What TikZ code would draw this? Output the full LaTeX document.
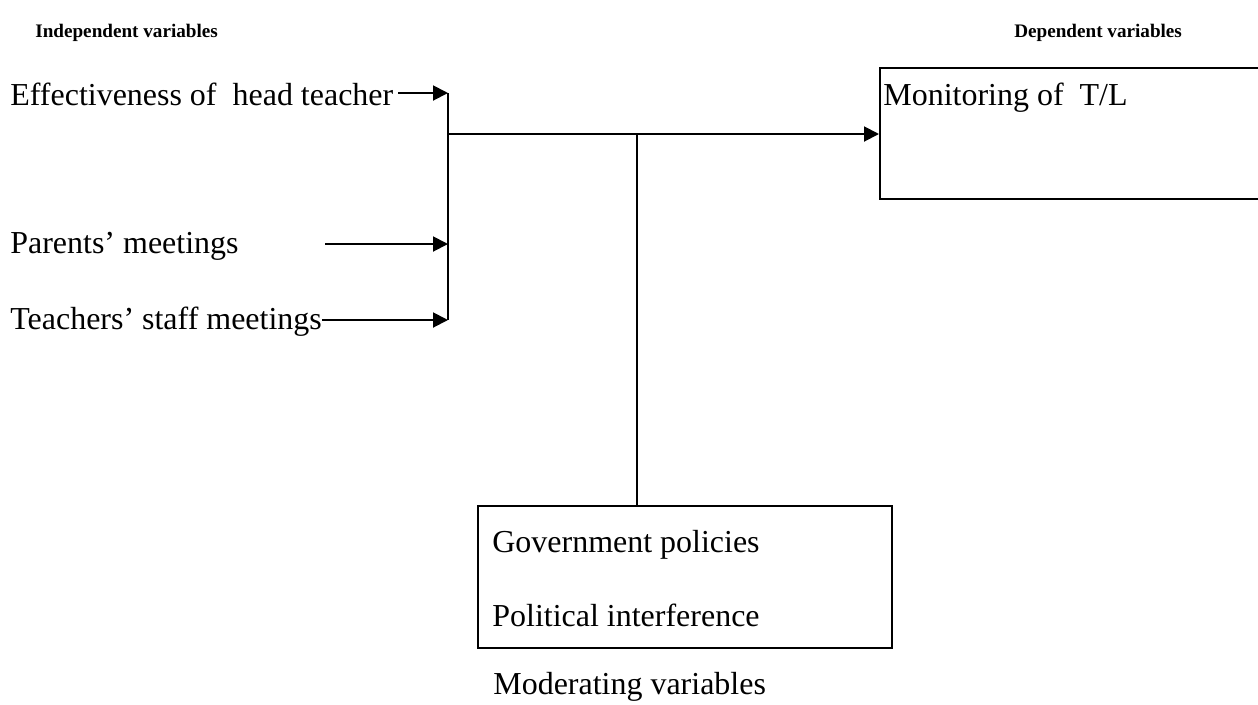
\documentclass[tikz,border=0pt]{standalone}
\usepackage{fontspec}
\setmainfont{Liberation Serif}
\usepackage{tikz}
\usetikzlibrary{arrows.meta,calc,positioning}

\tikzset{
  txt/.style={inner sep=0pt, anchor=base west, font=\fontsize{18.2}{22}\selectfont},
  head/.style={inner sep=0pt, anchor=base west, font=\fontsize{10.9}{13}\selectfont\bfseries},
  frame/.style={draw, line width=0.9pt, inner sep=0pt, anchor=north west},
  arr/.style={line width=1.1pt, -{Triangle[length=0.3cm,width=0.3cm]}},
  ln/.style={line width=1.1pt}
}

\begin{document}
\begin{tikzpicture}[x=0.02cm,y=-0.02cm]
		\path[use as bounding box, clip] (0,0) rectangle (1258,704);
		% headings
		\node[head] (indep) at (35,37) {Independent variables};
		\node[head] (dep) at (1014,37) {Dependent variables};
		% independent variables
		\node[txt] (eff) at (10,105) {Effectiveness of\ \ head teacher};
		\node[txt] (par) at (10,253) {Parents’ meetings};
		\node[txt] (tea) at (10,329) {Teachers’ staff meetings};
		\coordinate (bartop) at (448,93);
		\coordinate (barbot) at (448,320);
		\coordinate (effstart) at (398,93);
		\coordinate (parstart) at (325,244);
		\draw[ln] (bartop) -- (barbot);
		\draw[arr] (effstart) -- (bartop);
		\draw[arr] (parstart) -- (parstart -| bartop);
		\draw[arr] (tea.east |- barbot) -- (barbot);
		% dependent variable
		\node[frame, minimum width=8.4cm, minimum height=2.62cm] (monbox) at (879,67) {};
		\node[txt] (mon) at (883,105) {Monitoring of\ \ T/L};
		\coordinate (mainstart) at (448,134);
		\draw[arr] (mainstart) -- (mainstart -| monbox.west);
		% moderating variables
		\node[frame, minimum width=8.28cm, minimum height=2.84cm] (modbox) at (477,505) {};
		\node[txt] (gov) at (492,552) {Government policies};
		\node[txt] (pol) at (492,626) {Political interference};
		\node[txt] (moder) at (493,694) {Moderating variables};
		\coordinate (drop) at (637,134);
		\draw[ln] (drop) -- (drop |- modbox.north);
		\end{tikzpicture}
\end{document}
